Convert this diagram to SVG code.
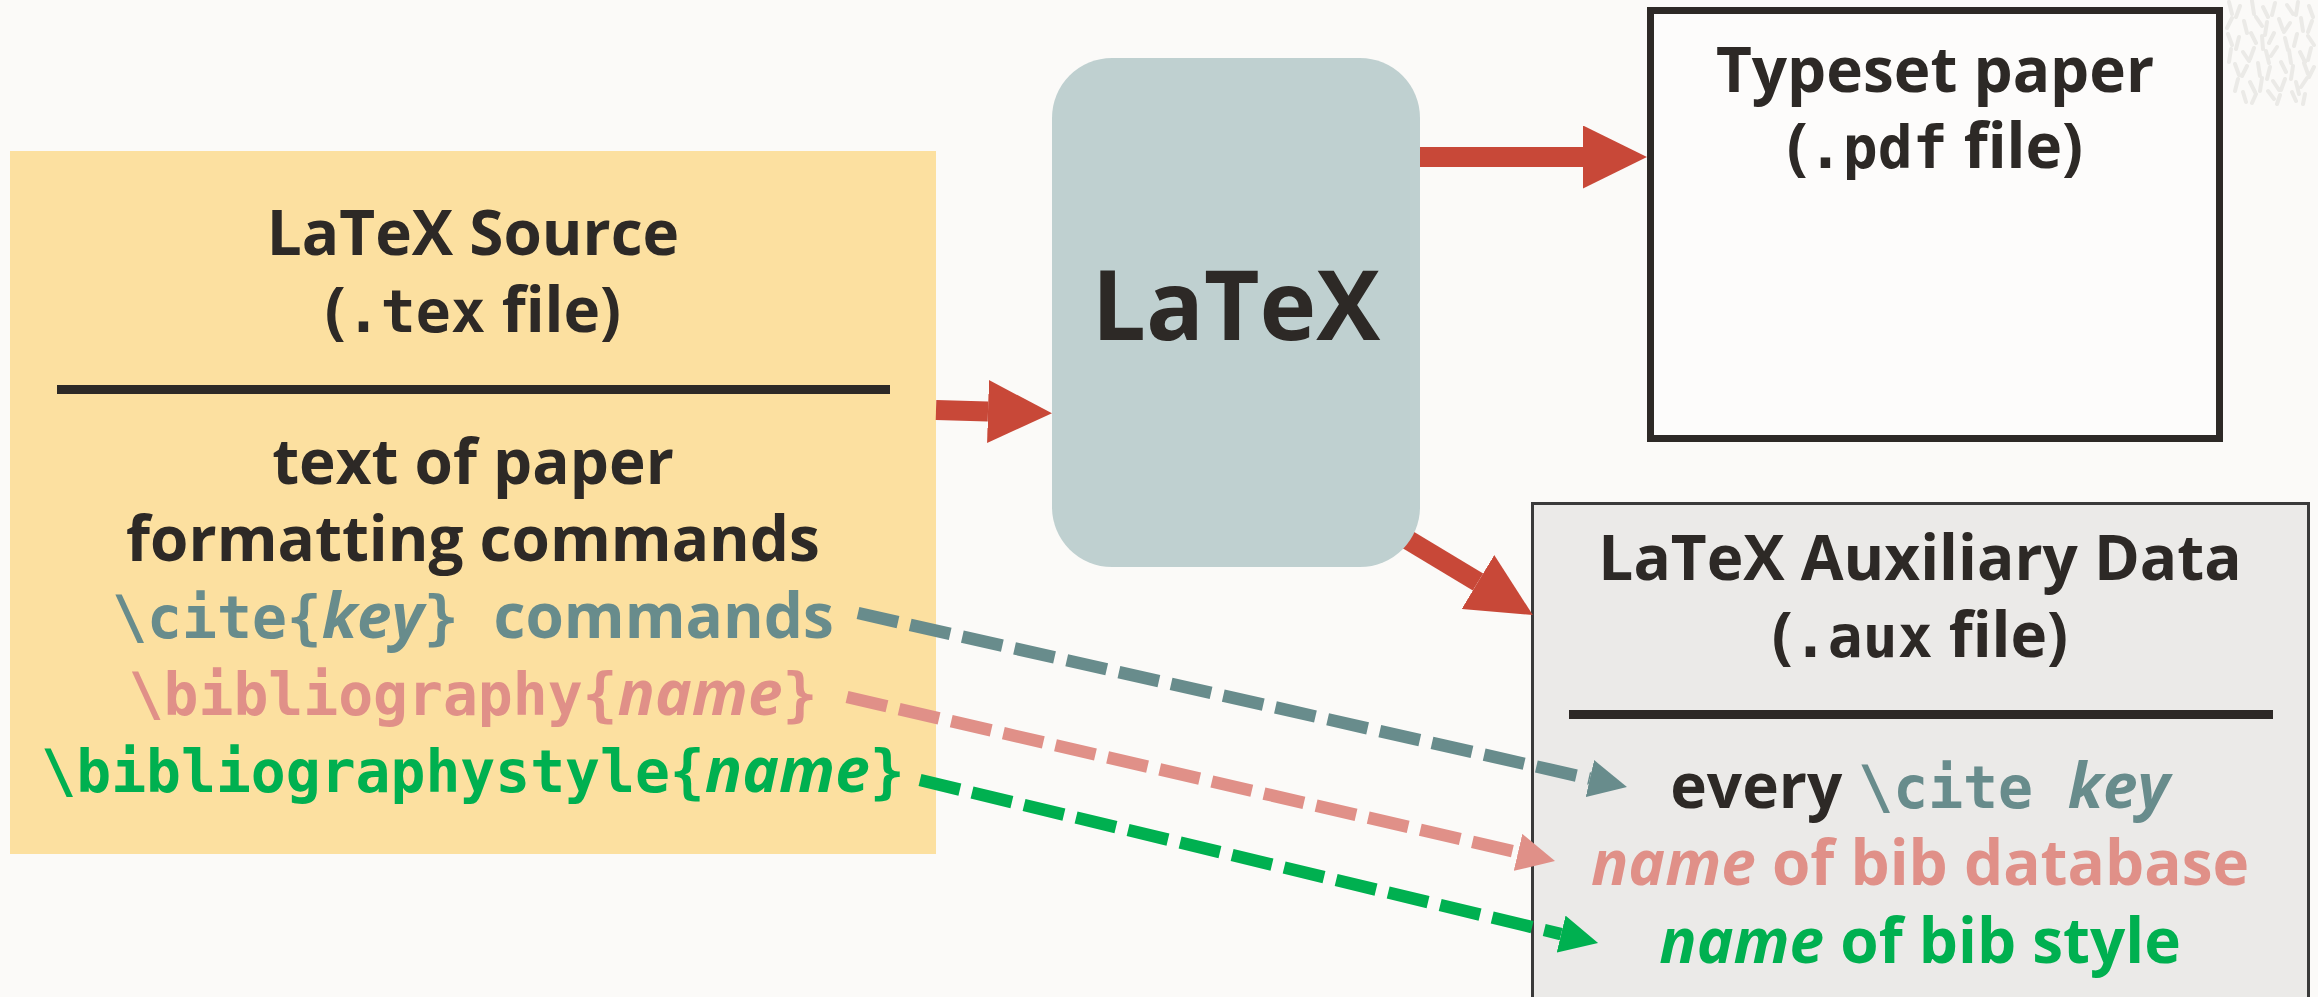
<svg xmlns="http://www.w3.org/2000/svg" width="2318" height="997" viewBox="0 0 2318 997">
  <style>
    .t { font-family: "Open Sans", "Noto Sans", sans-serif; font-weight: 700; font-size: 62px; fill: #2d2926; text-anchor: middle; }
    .big { font-size: 96px; }
    .m { font-family: "DejaVu Sans Mono", "Liberation Mono", monospace; font-size: 58px; font-weight: 700; }
    .i { font-style: italic; }
    .teal { fill: #688c8c; }
    .pink { fill: #e09088; }
    .green { fill: #00b050; }
    .rule { stroke: #2d2926; stroke-width: 9; }
    .red { stroke: #c84838; stroke-width: 20; fill: none; }
    .dash { stroke-width: 12.5; stroke-dasharray: 41 12.5; fill: none; }
  </style>
  <defs>
    <marker id="headRed" markerUnits="userSpaceOnUse" markerWidth="64" markerHeight="63" viewBox="0 0 64 63" refX="0" refY="31.5" orient="auto">
      <path d="M0,0 L64,31.5 L0,63 Z" fill="#c84838"/>
    </marker>
    <marker id="headTeal" markerUnits="userSpaceOnUse" markerWidth="38" markerHeight="38" viewBox="0 0 38 38" refX="0" refY="19" orient="auto">
      <path d="M0,0 L38,19 L0,38 Z" fill="#688c8c"/>
    </marker>
    <marker id="headPink" markerUnits="userSpaceOnUse" markerWidth="38" markerHeight="38" viewBox="0 0 38 38" refX="0" refY="19" orient="auto">
      <path d="M0,0 L38,19 L0,38 Z" fill="#e09088"/>
    </marker>
    <marker id="headGreen" markerUnits="userSpaceOnUse" markerWidth="38" markerHeight="38" viewBox="0 0 38 38" refX="0" refY="19" orient="auto">
      <path d="M0,0 L38,19 L0,38 Z" fill="#00b050"/>
    </marker>
  </defs>

  <rect x="0" y="0" width="2318" height="997" fill="#fbfaf8"/>

  <!-- faint stroke texture in the top right corner -->
  <path fill="none" stroke="#ebeae7" stroke-width="4" stroke-linecap="round" d="
    M2229,2 l3,12 M2240,6 l-4,11 M2252,1 l2,13 M2263,7 l5,10 M2275,3 l-3,12 M2287,5 l6,9 M2298,2 l-2,13 M2309,6 l4,11
    M2232,18 l-5,10 M2244,21 l3,12 M2256,17 l6,9 M2267,22 l-2,13 M2279,19 l4,11 M2290,23 l-6,9 M2301,18 l2,13 M2312,21 l-4,11
    M2228,34 l4,11 M2239,37 l-3,12 M2251,33 l5,10 M2262,36 l1,13 M2274,33 l-5,10 M2285,38 l3,12 M2297,34 l-3,12 M2308,36 l6,9
    M2231,49 l-2,13 M2243,52 l6,9 M2254,48 l-4,11 M2266,51 l3,12 M2277,47 l-6,9 M2289,50 l2,13 M2300,52 l5,10 M2311,48 l-3,12
    M2235,64 l4,11 M2247,66 l-5,10 M2258,63 l2,13 M2270,67 l-3,12 M2281,62 l5,10 M2293,66 l-2,13 M2304,63 l4,11 M2314,67 l-5,10
    M2238,79 l-3,12 M2250,82 l5,10 M2262,78 l-2,13 M2273,81 l6,9 M2285,79 l-4,11 M2296,82 l3,12 M2307,78 l-6,9
    M2243,92 l3,10 M2256,94 l-4,9 M2268,91 l6,8 M2280,95 l-3,9 M2292,92 l4,9 M2305,94 l-2,10"/>

  <!-- LaTeX source file -->
  <g id="source">
    <rect x="10" y="151" width="926" height="703" fill="#fce0a0"/>
    <text class="t" x="473" y="255">LaTeX Source</text>
    <text class="t" x="473" y="332">(<tspan class="m">.tex</tspan> file)</text>
    <line class="rule" x1="57" y1="389.5" x2="890" y2="389.5"/>
    <text class="t" x="473" y="484">text of paper</text>
    <text class="t" x="473" y="561">formatting commands</text>
    <text class="t teal" x="473" y="638"><tspan class="m">\cite{</tspan><tspan class="i">key</tspan><tspan class="m">} </tspan>commands</text>
    <text class="t pink" x="473" y="715"><tspan class="m">\bibliography{</tspan><tspan class="i">name</tspan><tspan class="m">}</tspan></text>
    <text class="t green" x="473" y="792"><tspan class="m">\bibliographystyle{</tspan><tspan class="i">name</tspan><tspan class="m">}</tspan></text>
  </g>

  <!-- typeset output -->
  <g id="typeset">
    <rect x="1650.5" y="10.5" width="569" height="428" fill="#fdfcfb" stroke="#2d2926" stroke-width="7"/>
    <text class="t" x="1935" y="92">Typeset paper</text>
    <text class="t" x="1935" y="168">(<tspan class="m">.pdf</tspan> file)</text>
  </g>

  <!-- auxiliary data file -->
  <g id="aux">
    <rect x="1532.5" y="503.5" width="776" height="500" fill="#ebeae8" stroke="#3a3a3a" stroke-width="3"/>
    <text class="t" x="1920" y="580">LaTeX Auxiliary Data</text>
    <text class="t" x="1920" y="657">(<tspan class="m">.aux</tspan> file)</text>
    <line class="rule" x1="1569" y1="714.5" x2="2273" y2="714.5"/>
    <text class="t" x="1920" y="808">every <tspan class="m teal">\cite </tspan><tspan class="i teal">key</tspan></text>
    <text class="t pink" x="1920" y="885"><tspan class="i">name</tspan> of bib database</text>
    <text class="t green" x="1920" y="963"><tspan class="i">name</tspan> of bib style</text>
  </g>

  <!-- connectors -->
  <g id="connectors">
    <line class="red" x1="936" y1="410" x2="988" y2="411.5" marker-end="url(#headRed)"/>
    <line class="red" x1="1400" y1="157" x2="1583" y2="157" marker-end="url(#headRed)"/>
    <line class="red" x1="1375" y1="520" x2="1478" y2="582" marker-end="url(#headRed)"/>
    <line class="dash" stroke="#688c8c" x1="858" y1="613" x2="1589.9" y2="778.6" marker-end="url(#headTeal)"/>
    <line class="dash" stroke="#e09088" x1="847" y1="697" x2="1518" y2="852.4" marker-end="url(#headPink)"/>
    <line class="dash" stroke="#00b050" x1="920" y1="780" x2="1561.1" y2="934.1" marker-end="url(#headGreen)"/>
  </g>

  <!-- LaTeX engine (drawn last so arrow tails tuck under it) -->
  <g id="latex">
    <rect x="1052" y="58" width="368" height="509" rx="60" ry="60" fill="#bfd0d0"/>
    <text class="t big" x="1236" y="340">LaTeX</text>
  </g>
</svg>
